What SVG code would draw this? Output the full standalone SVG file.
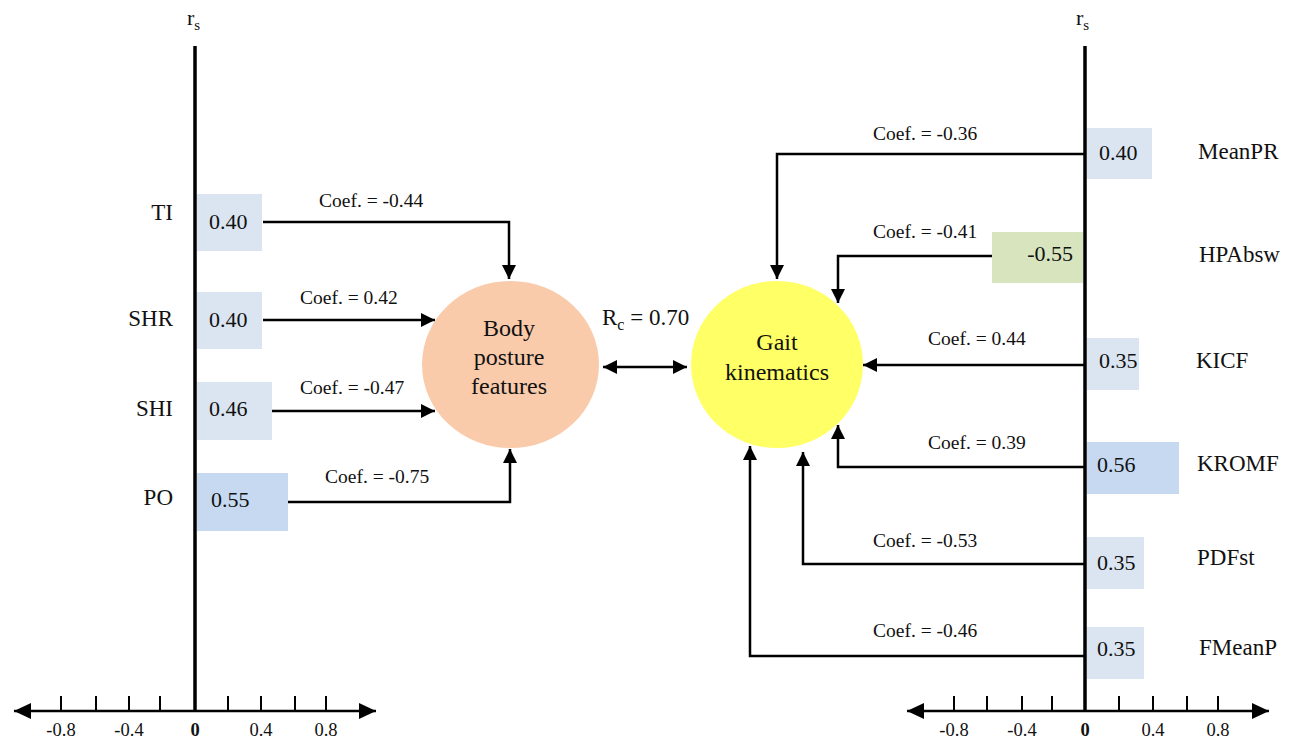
<svg xmlns="http://www.w3.org/2000/svg" width="1299" height="738" viewBox="0 0 1299 738" font-family="'Liberation Serif', 'DejaVu Serif', serif">
<style>
text, tspan{font-family:'Liberation Serif', 'DejaVu Serif', serif;fill:#111;}
.lab{font-size:23px;}
.val{font-size:22px;}
.coef{font-size:19.5px;}
.tick{font-size:18.5px;}
.node{font-size:24px;}
.axis{stroke:#000;stroke-width:3.5;fill:none;}
.haxis{stroke:#000;stroke-width:2.5;fill:none;}
.tk{stroke:#000;stroke-width:2;}
.conn{stroke:#000;stroke-width:2.5;fill:none;marker-end:url(#ah);}
.lb{fill:#dbe5f1;}
.db{fill:#c6d9f1;}
.gb{fill:#d7e4bd;}
</style>
<defs>
<marker id="ah" markerUnits="userSpaceOnUse" markerWidth="14" markerHeight="14" refX="14" refY="7" orient="auto-start-reverse" viewBox="0 0 14 14">
<path d="M0,0 L14,7 L0,14 z" fill="#000"/>
</marker>
<marker id="axh" markerUnits="userSpaceOnUse" markerWidth="17" markerHeight="16" refX="17" refY="8" orient="auto-start-reverse" viewBox="0 0 17 16">
<path d="M0,0 L17,8 L0,16 z" fill="#000"/>
</marker>
</defs>
<rect width="1299" height="738" fill="#fff"/>

<g id="left-axis">
<line class="haxis" x1="14" y1="711" x2="376" y2="711" marker-start="url(#axh)" marker-end="url(#axh)"/>
<g class="tk">
<line x1="61" y1="696" x2="61" y2="711"/><line x1="96" y1="696" x2="96" y2="711"/><line x1="129" y1="696" x2="129" y2="711"/><line x1="160" y1="696" x2="160" y2="711"/>
<line x1="228" y1="696" x2="228" y2="711"/><line x1="261" y1="696" x2="261" y2="711"/><line x1="295" y1="696" x2="295" y2="711"/><line x1="326" y1="696" x2="326" y2="711"/>
</g>
<g class="tick" text-anchor="middle">
<text x="61" y="736">-0.8</text><text x="129" y="736">-0.4</text><text x="195" y="736" font-weight="bold">0</text><text x="261" y="736">0.4</text><text x="326" y="736">0.8</text>
</g>
<text x="187" y="25" font-size="22">r<tspan font-size="15" dy="5">s</tspan></text>
</g>

<g id="right-axis">
<line class="haxis" x1="907" y1="711" x2="1269" y2="711" marker-start="url(#axh)" marker-end="url(#axh)"/>
<g class="tk">
<line x1="954" y1="696" x2="954" y2="711"/><line x1="987" y1="696" x2="987" y2="711"/><line x1="1022" y1="696" x2="1022" y2="711"/><line x1="1052" y1="696" x2="1052" y2="711"/>
<line x1="1119" y1="696" x2="1119" y2="711"/><line x1="1153" y1="696" x2="1153" y2="711"/><line x1="1187" y1="696" x2="1187" y2="711"/><line x1="1218" y1="696" x2="1218" y2="711"/>
</g>
<g class="tick" text-anchor="middle">
<text x="954" y="736">-0.8</text><text x="1022" y="736">-0.4</text><text x="1085" y="736" font-weight="bold">0</text><text x="1153" y="736">0.4</text><text x="1218" y="736">0.8</text>
</g>
<text x="1076" y="25" font-size="22">r<tspan font-size="15" dy="5">s</tspan></text>
</g>

<g id="TI"><rect class="lb" x="197" y="194" width="65" height="57"/><text class="val" x="209" y="229">0.40</text><text class="lab" x="173" y="220" text-anchor="end">TI</text></g>
<g id="SHR"><rect class="lb" x="197" y="292" width="65" height="57"/><text class="val" x="209" y="327">0.40</text><text class="lab" x="173" y="326" text-anchor="end">SHR</text></g>
<g id="SHI"><rect class="lb" x="197" y="382" width="75" height="58"/><text class="val" x="209" y="416">0.46</text><text class="lab" x="173" y="416" text-anchor="end">SHI</text></g>
<g id="PO"><rect class="db" x="197" y="473" width="91" height="58"/><text class="val" x="211" y="507">0.55</text><text class="lab" x="173" y="505" text-anchor="end">PO</text></g>

<g id="MeanPR"><rect class="lb" x="1087" y="128" width="65" height="51"/><text class="val" x="1099" y="160">0.40</text><text class="lab" x="1198" y="159">MeanPR</text></g>
<g id="HPAbsw"><rect class="gb" x="992" y="232" width="91" height="51"/><text class="val" x="1073" y="261" text-anchor="end">-0.55</text><text class="lab" x="1199" y="262">HPAbsw</text></g>
<g id="KICF"><rect class="lb" x="1087" y="338" width="52" height="52"/><text class="val" x="1099" y="368">0.35</text><text class="lab" x="1196" y="368">KICF</text></g>
<g id="KROMF"><rect class="db" x="1087" y="442" width="92" height="52"/><text class="val" x="1097" y="472">0.56</text><text class="lab" x="1197" y="471">KROMF</text></g>
<g id="PDFst"><rect class="lb" x="1087" y="537" width="57" height="52"/><text class="val" x="1097" y="570">0.35</text><text class="lab" x="1197" y="565">PDFst</text></g>
<g id="FMeanP"><rect class="lb" x="1087" y="627" width="57" height="52"/><text class="val" x="1097" y="656">0.35</text><text class="lab" x="1199" y="655">FMeanP</text></g>

<g id="axes-vertical">
<line class="axis" x1="195" y1="46" x2="195" y2="711"/>
<line class="axis" x1="1085" y1="46" x2="1085" y2="711"/>
</g>

<g id="body-posture">
<ellipse cx="510.5" cy="364.5" rx="88.5" ry="83.5" fill="#f9cbab"/>
<g class="node" text-anchor="middle"><text x="509" y="336">Body</text><text x="509" y="365">posture</text><text x="509" y="394">features</text></g>
</g>
<g id="gait">
<ellipse cx="777" cy="364.5" rx="86" ry="83.5" fill="#ffff66"/>
<g class="node" text-anchor="middle"><text x="777" y="350">Gait</text><text x="777" y="380">kinematics</text></g>
</g>

<g id="connectors">
<path class="conn" d="M263,222 H509 V279"/>
<path class="conn" d="M263,320 H435"/>
<path class="conn" d="M272,411 H435"/>
<path class="conn" d="M288,502 H510 V449"/>
<line class="conn" x1="603" y1="367" x2="687" y2="367" marker-start="url(#ah)"/>
<path class="conn" d="M1085,154 H777 V279"/>
<path class="conn" d="M992,256 H838 V303"/>
<path class="conn" d="M1085,365 H863"/>
<path class="conn" d="M1085,467 H838 V425"/>
<path class="conn" d="M1085,564 H803 V452"/>
<path class="conn" d="M1085,656 H750 V446"/>
</g>

<g id="labels" class="coef">
<text x="319" y="207">Coef. = -0.44</text>
<text x="300" y="304">Coef. = 0.42</text>
<text x="300" y="394">Coef. = -0.47</text>
<text x="325" y="483">Coef. = -0.75</text>
<text x="873" y="140">Coef. = -0.36</text>
<text x="873" y="238">Coef. = -0.41</text>
<text x="928" y="345">Coef. = 0.44</text>
<text x="928" y="449">Coef. = 0.39</text>
<text x="873" y="547">Coef. = -0.53</text>
<text x="873" y="637">Coef. = -0.46</text>
</g>
<text x="602" y="325" font-size="23">R<tspan font-size="16" dy="5">c</tspan><tspan dy="-5"> = 0.70</tspan></text>
</svg>
